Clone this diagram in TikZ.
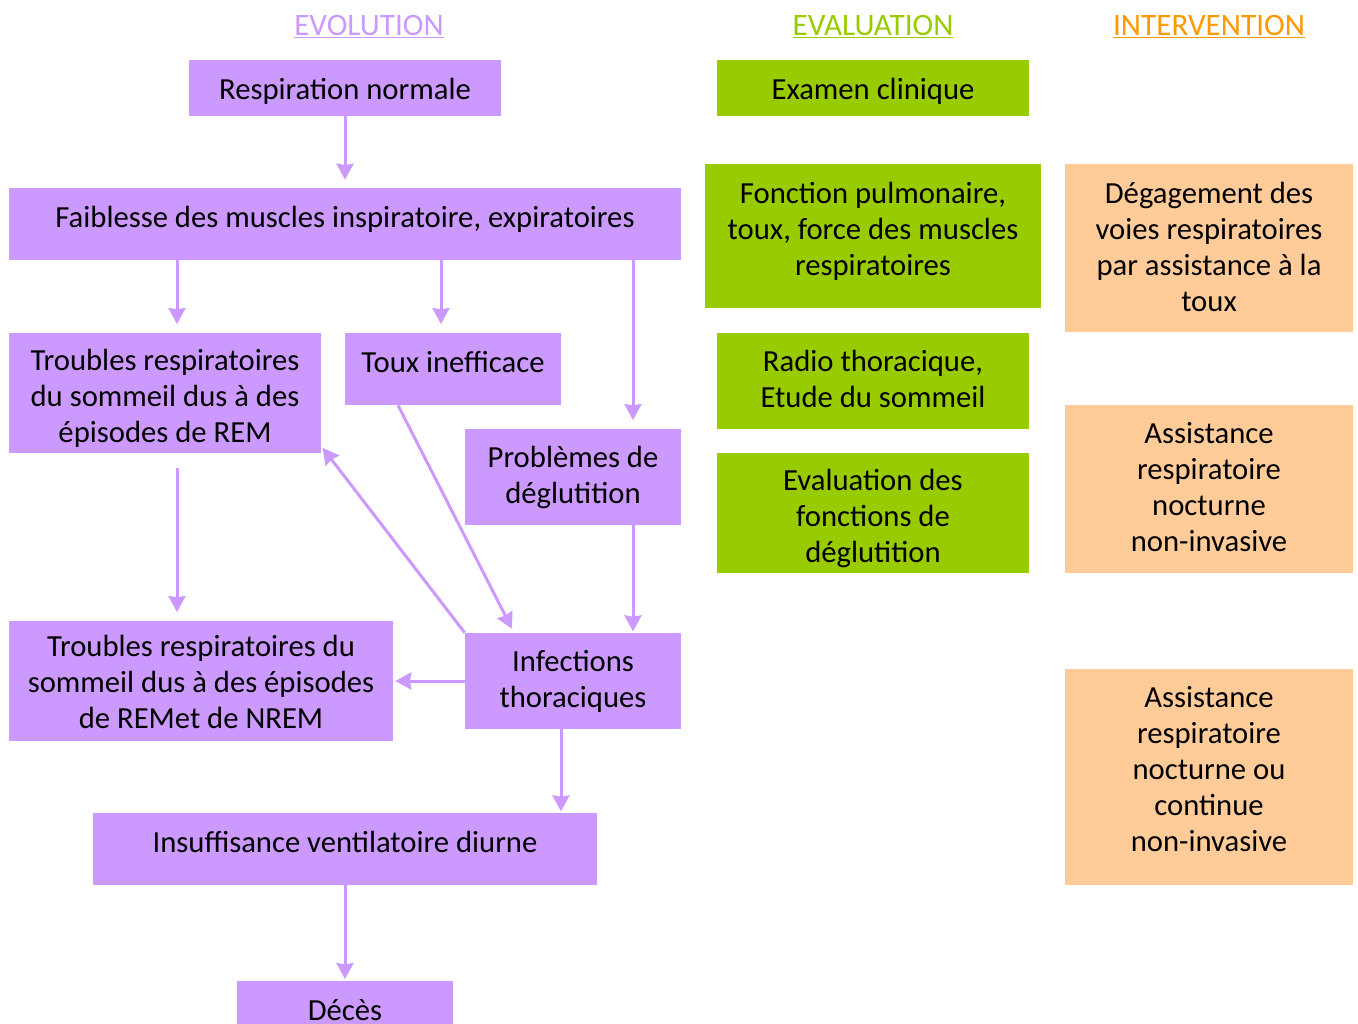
\documentclass[tikz,border=0pt]{standalone}
\usepackage{fontspec}
\setmainfont{Carlito}
\usetikzlibrary{arrows.meta}
\definecolor{pur}{HTML}{CC99FF}
\definecolor{grn}{HTML}{99CC00}
\definecolor{org}{HTML}{FFCC99}
\definecolor{orh}{HTML}{FF9900}
\newcommand\bxt[2]{\raisebox{#1}[\height][\depth]{\begin{tabular}{@{}c@{}}#2\end{tabular}}}
\begin{document}
\begin{tikzpicture}[x=0.75pt,y=-0.75pt,
  box/.style={inner sep=0pt,align=center,font=\fontsize{23}{27}\selectfont,text=black},
  evo/.style={box,fill=pur},
  eva/.style={box,fill=grn},
  itv/.style={box,fill=org},
  head/.style={inner sep=0pt,font=\fontsize{23.4}{27}\selectfont},
  arr/.style={draw=pur,line width=2.25pt,-{Stealth[length=12pt,width=12.75pt,inset=1pt]}}]
\useasboundingbox (0,0) rectangle (1358,1023);
% headers
\node[head,text=pur] (h1) at (369,27) {\underline{EVOLUTION}};
\node[head,text=grn] (h2) at (873,27) {\underline{EVALUATION}};
\node[head,text=orh] (h3) at (1209,27) {\underline{INTERVENTION}};
% evolution column
\node[evo,minimum width=234pt,minimum height=42pt] (resp) at (345,88) {\bxt{-3pt}{Respiration normale}};
\node[evo,minimum width=504pt,minimum height=54pt] (faib) at (345,224) {\bxt{3pt}{Faiblesse des muscles inspiratoire, expiratoires}};
\node[evo,minimum width=234pt,minimum height=90pt] (trem) at (165,393) {\bxt{-4.5pt}{Troubles respiratoires\\du sommeil dus à des\\épisodes de REM}};
\node[evo,minimum width=162pt,minimum height=54pt] (toux) at (453,369) {\bxt{3pt}{Toux inefficace}};
\node[evo,minimum width=162pt,minimum height=72pt] (prob) at (573,477) {\bxt{-0.75pt}{Problèmes de\\déglutition}};
\node[evo,minimum width=288pt,minimum height=90pt] (tnrem) at (201,681) {\bxt{-3pt}{Troubles respiratoires du\\sommeil dus à des épisodes\\de REMet de NREM}};
\node[evo,minimum width=162pt,minimum height=72pt] (inf) at (573,681) {\bxt{-0.75pt}{Infections\\thoraciques}};
\node[evo,minimum width=378pt,minimum height=54pt] (insu) at (345,849) {\bxt{3pt}{Insuffisance ventilatoire diurne}};
\node[evo,minimum width=162pt,minimum height=44pt] (deces) at (345,1010) {Décès};
% evaluation column
\node[eva,minimum width=234pt,minimum height=42pt] (exam) at (873,88) {\bxt{-3pt}{Examen clinique}};
\node[eva,minimum width=252pt,minimum height=108pt] (fonc) at (873,236) {\bxt{3pt}{Fonction pulmonaire,\\toux, force des muscles\\respiratoires}};
\node[eva,minimum width=234pt,minimum height=72pt] (radio) at (873,381) {\bxt{-0.75pt}{Radio thoracique,\\Etude du sommeil}};
\node[eva,minimum width=234pt,minimum height=90pt] (evald) at (873,513) {\bxt{-5pt}{Evaluation des\\fonctions de\\déglutition}};
% intervention column
\node[itv,minimum width=216pt,minimum height=126pt] (deg) at (1209,248) {\bxt{-1.5pt}{Dégagement des\\voies respiratoires\\par assistance à la\\toux}};
\node[itv,minimum width=216pt,minimum height=126pt] (ass1) at (1209,489) {\bxt{-0.75pt}{Assistance\\respiratoire\\nocturne\\non-invasive}};
\node[itv,minimum width=216pt,minimum height=162pt] (ass2) at (1209,777) {\bxt{3.75pt}{Assistance\\respiratoire\\nocturne ou\\continue\\non-invasive}};
% x positions
\coordinate (xa) at (177,0);
\coordinate (xb) at (441,0);
\coordinate (xc) at (633,0);
\coordinate (xd) at (561,0);
\coordinate (xe) at (398,0);
\coordinate (xf) at (512,0);
% arrows
\draw[arr] (resp.south) -- ([yshift=6pt]faib.north);
\draw[arr] (faib.south -| xa) -- ([yshift=6.5pt]trem.north -| xa);
\draw[arr] (faib.south -| xb) -- ([yshift=6.5pt]toux.north -| xb);
\draw[arr] (faib.south -| xc) -- ([yshift=6.5pt]prob.north -| xc);
\draw[arr] ([yshift=-11pt]trem.south -| xa) -- ([yshift=6.5pt]tnrem.north -| xa);
\draw[arr] (toux.south -| xe) -- ([yshift=3pt]inf.north -| xf);
\draw[arr] (inf.north west) -- ([shift={(1pt,4pt)}]trem.south east);
\draw[arr] (prob.south -| xc) -- ([yshift=1pt]inf.north -| xc);
\draw[arr] (inf.west) -- ([xshift=1.5pt]inf.west -| tnrem.east);
\draw[arr] (inf.south -| xd) -- ([yshift=1pt]insu.north -| xd);
\draw[arr] (insu.south) -- ([yshift=1pt]deces.north);
\end{tikzpicture}
\end{document}
